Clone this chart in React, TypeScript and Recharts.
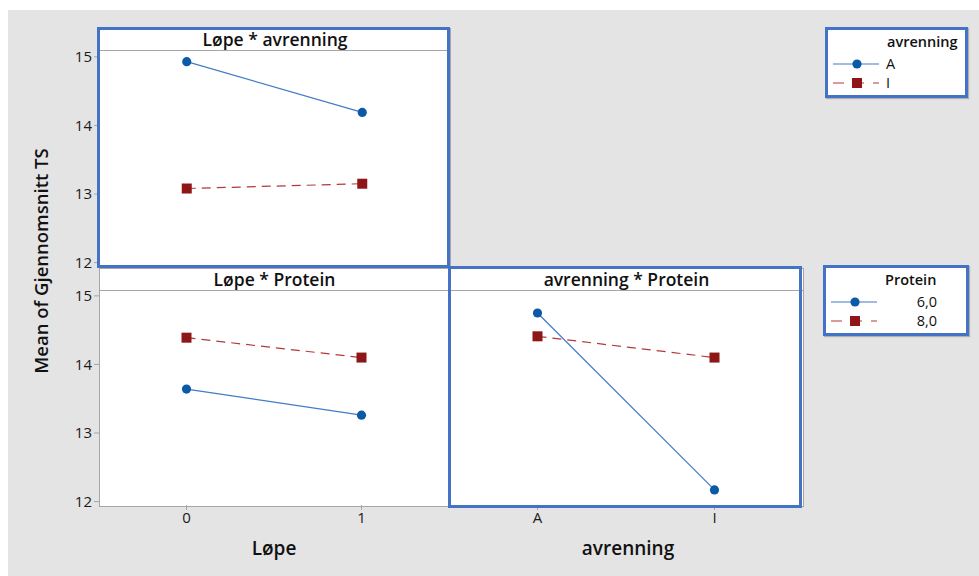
import { LineChart, Line, XAxis, YAxis } from 'recharts';

// ---- data ----
const loepeLevels = ['0', '1'];
const avrenningLevels = ['A', 'I'];
const proteinLevels = ['6,0', '8,0'];

const loepeAvrA = [14.93, 14.19];
const loepeAvrI = [13.08, 13.15];
const loepeProt6 = [13.64, 13.26];
const loepeProt8 = [14.39, 14.1];
const avrProt6 = [14.75, 12.17];
const avrProt8 = [14.41, 14.1];

const yTicks = [12, 13, 14, 15];
const Y_DOMAIN: [number, number] = [11.95, 15.1];

const BLUE = '#0b5aa8';
const BLUE_LINE = '#3f7dc4';
const RED = '#8e1616';
const RED_LINE = '#b03a3a';
const FRAME = '#4472c4';
const GRID = '#a6a6a6';
const FONT = '"Open Sans", "Noto Sans", sans-serif';

const loepeAvr = loepeLevels.map((c, i) => ({ cat: c, first: loepeAvrA[i], second: loepeAvrI[i] }));
const loepeProt = loepeLevels.map((c, i) => ({ cat: c, first: loepeProt6[i], second: loepeProt8[i] }));
const avrProt = avrenningLevels.map((c, i) => ({ cat: c, first: avrProt6[i], second: avrProt8[i] }));

const CircleDot = (props: any) => {
    const { cx, cy } = props;
    if (cx == null || cy == null) return null;
    return <circle cx={cx} cy={cy} r={4.6} fill={BLUE} />;
};

const SquareDot = (props: any) => {
    const { cx, cy } = props;
    if (cx == null || cy == null) return null;
    return <rect x={cx - 5} y={cy - 5} width={10} height={10} fill={RED} />;
};

const TICK_STYLE = { fontSize: 15, fill: '#1a1a1a', fontFamily: FONT };

// plot area is 216px tall; 10px of padding above/below keeps the end tick labels visible
const PAD = 10;

function Panel({ data, left, top, width, showY, showX }: {
    data: { cat: string; first: number; second: number }[];
    left: number; top: number; width: number;
    showY: boolean; showX: boolean;
}) {
    const height = 216 + PAD + (showX ? 34 : PAD);
    return (
        <div style={{ position: 'absolute', left, top: top - PAD }}>
            <LineChart width={width} height={height} data={data}
                margin={{ top: PAD, right: 0, bottom: showX ? 0 : PAD, left: 0 }}>
                <XAxis
                    dataKey="cat"
                    scale="band"
                    hide={!showX}
                    height={34}
                    axisLine={false}
                    tickLine={{ stroke: GRID }}
                    tickSize={5}
                    tick={TICK_STYLE}
                />
                <YAxis
                    hide={!showY}
                    width={59}
                    domain={Y_DOMAIN}
                    ticks={yTicks}
                    allowDataOverflow
                    axisLine={false}
                    tickLine={{ stroke: GRID }}
                    tickSize={5}
                    tick={TICK_STYLE}
                />
                <Line
                    dataKey="first"
                    stroke={BLUE_LINE}
                    strokeWidth={1.2}
                    dot={<CircleDot />}
                    activeDot={false}
                    isAnimationActive={false}
                />
                <Line
                    dataKey="second"
                    stroke={RED_LINE}
                    strokeWidth={1.2}
                    strokeDasharray="9 6"
                    dot={<SquareDot />}
                    activeDot={false}
                    isAnimationActive={false}
                />
            </LineChart>
        </div>
    );
}

function PanelBox({ left, top, width, height, title }: {
    left: number; top: number; width: number; height: number; title: string;
}) {
    return (
        <div style={{
            position: 'absolute', left, top, width, height, boxSizing: 'border-box',
            background: '#fff', border: `1px solid ${GRID}`,
        }}>
            <div style={{
                height: 21, borderBottom: `1px solid ${GRID}`, textAlign: 'center',
                fontFamily: FONT, fontWeight: 600, fontSize: 17.5, lineHeight: '21px', color: '#111',
            }}>{title}</div>
        </div>
    );
}

const LegendIcon = ({ kind }: { kind: 'circle' | 'square' }) => (
    <svg width={48} height={12} style={{ display: 'block' }}>
        {kind === 'circle' ? (
            <>
                <line x1={0} y1={6} x2={46} y2={6} stroke={BLUE_LINE} strokeWidth={1.2} />
                <circle cx={24} cy={6} r={4.6} fill={BLUE} />
            </>
        ) : (
            <>
                <line x1={0} y1={6} x2={46} y2={6} stroke={RED_LINE} strokeWidth={1.2} strokeDasharray="11 9" />
                <rect x={19} y={1} width={10} height={10} fill={RED} />
            </>
        )}
    </svg>
);

function LegendBox({ left, top, width, title, labels, alignRight }: {
    left: number; top: number; width: number; title: string; labels: string[]; alignRight: boolean;
}) {
    return (
        <div style={{
            position: 'absolute', left, top, width, height: 71, boxSizing: 'border-box',
            background: '#fff', border: `3px solid ${FRAME}`, boxShadow: '1px 1px 1px #b0b0b0',
            fontFamily: FONT, color: '#111', fontSize: 14.5,
        }}>
            <div style={{ position: 'absolute', left: 59, top: 2, fontWeight: 600, lineHeight: '20px' }}>{title}</div>
            {labels.map((l, i) => (
                <div key={l} style={{ position: 'absolute', left: 5, top: 24 + i * 19, display: 'flex', alignItems: 'center', height: 20 }}>
                    <LegendIcon kind={i === 0 ? 'circle' : 'square'} />
                    <span style={{
                        marginLeft: alignRight ? 0 : 5, width: alignRight ? 58 : undefined,
                        textAlign: alignRight ? 'right' : 'left', lineHeight: '20px',
                    }}>{l}</span>
                </div>
            ))}
        </div>
    );
}

const Frame = ({ left, top, width, height }: { left: number; top: number; width: number; height: number }) => (
    <div style={{
        position: 'absolute', left, top, width, height, boxSizing: 'border-box',
        border: `3px solid ${FRAME}`, pointerEvents: 'none',
    }} />
);

export default function App() {
    return (
        <div style={{ position: 'fixed', left: 0, top: 0, width: 979, height: 576, background: '#fff', overflow: 'hidden' }}>
            <div style={{ position: 'absolute', left: 8, top: 10, width: 971, height: 566, background: '#e4e4e4' }} />

            <PanelBox left={99} top={28} width={352} height={239} title="Løpe * avrenning" />
            <PanelBox left={99} top={268} width={351} height={239} title="Løpe * Protein" />
            <PanelBox left={449} top={268} width={355} height={239} title="avrenning * Protein" />

            <Panel data={loepeAvr} left={40} top={50} width={410} showY showX={false} />
            <Panel data={loepeProt} left={40} top={289} width={409} showY showX />
            <Panel data={avrProt} left={449} top={289} width={354} showY={false} showX />

            <div style={{
                position: 'absolute', left: 40, top: 261, transform: 'translate(-50%, -50%) rotate(-90deg)',
                whiteSpace: 'nowrap', fontFamily: FONT, fontWeight: 600, fontSize: 18.5, color: '#111',
            }}>Mean of Gjennomsnitt TS</div>
            <div style={{
                position: 'absolute', left: 274, top: 548, transform: 'translate(-50%, -50%)',
                fontFamily: FONT, fontWeight: 600, fontSize: 19, color: '#111',
            }}>Løpe</div>
            <div style={{
                position: 'absolute', left: 628, top: 548, transform: 'translate(-50%, -50%)',
                fontFamily: FONT, fontWeight: 600, fontSize: 19, color: '#111',
            }}>avrenning</div>

            <Frame left={97} top={27} width={353} height={241} />
            <Frame left={448} top={266} width={354} height={242} />

            <LegendBox left={825} top={27} width={143} title="avrenning" labels={avrenningLevels} alignRight={false} />
            <LegendBox left={823} top={265} width={146} title="Protein" labels={proteinLevels} alignRight />
        </div>
    );
}
